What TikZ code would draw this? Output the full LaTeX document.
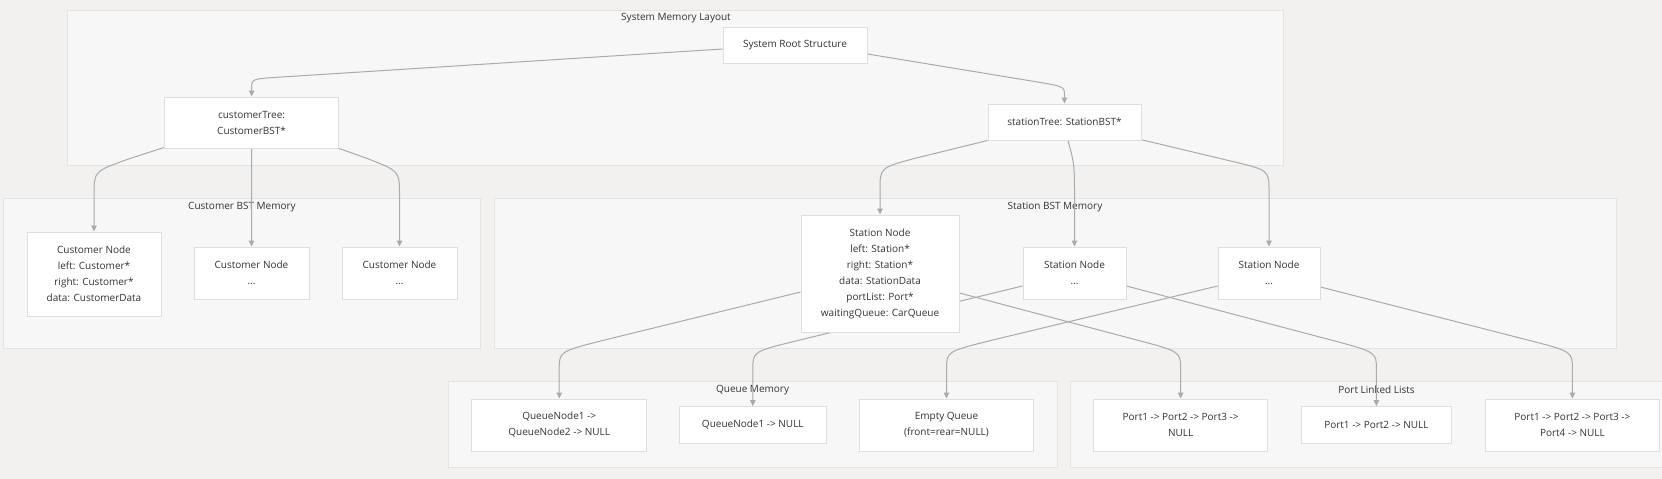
\documentclass[tikz,border=0pt]{standalone}
\usepackage{fontspec}
\setmainfont{Open Sans}
\usetikzlibrary{calc,arrows.meta}
\pgfdeclarelayer{bg}
\pgfdeclarelayer{edges}
\pgfsetlayers{bg,edges,main}
\definecolor{pagebg}{RGB}{242,241,240}
\definecolor{clfill}{RGB}{247,247,247}
\definecolor{cldraw}{RGB}{227,227,227}
\definecolor{nddraw}{RGB}{222,222,222}
\definecolor{edgec}{RGB}{170,170,170}
\definecolor{txt}{RGB}{51,51,51}
\tikzset{
  box/.style={draw=nddraw, fill=white, line width=1pt, inner sep=0pt, align=center, text=txt},
  cluster/.style={draw=cldraw, fill=clfill, line width=1pt},
  cltitle/.style={text=txt, inner sep=0pt},
  edge/.style={draw=edgec, line width=1pt, -{Triangle[length=6pt,width=5.5pt]}},
}
\begin{document}
\begin{tikzpicture}[x=1pt,y=-1pt, font=\fontsize{10}{16}\selectfont]
\useasboundingbox (0,0) rectangle (1662,479);
% nodes
\node[box, minimum width=144pt, minimum height=36pt] (root) at (795,45) {System Root Structure};
\node[box, minimum width=174pt, minimum height=51pt] (ctree) at (251.6,122.5) {customerTree:\\CustomerBST*};
\node[box, minimum width=153pt, minimum height=36pt] (stree) at (1064.5,122) {stationTree: StationBST*};
\node[box, minimum width=134pt, minimum height=84pt] (cn1) at (94,274) {Customer Node\\left: Customer*\\right: Customer*\\data: CustomerData};
\node[box, minimum width=115pt, minimum height=52pt] (cn2) at (251.5,273) {Customer Node\\...};
\node[box, minimum width=115pt, minimum height=52pt] (cn3) at (399.5,273) {Customer Node\\...};
\node[box, minimum width=158pt, minimum height=117pt] (sn1) at (880,273.5) {Station Node\\left: Station*\\right: Station*\\data: StationData\\portList: Port*\\waitingQueue: CarQueue};
\node[box, minimum width=103pt, minimum height=52pt] (sn2) at (1074.5,273) {Station Node\\...};
\node[box, minimum width=102pt, minimum height=52pt] (sn3) at (1269,273) {Station Node\\...};
\node[box, minimum width=174.5pt, minimum height=52pt] (q1) at (559.2,425) {QueueNode1 ->\\QueueNode2 -> NULL};
\node[box, minimum width=146.4pt, minimum height=36.6pt] (q2) at (752.8,425) {QueueNode1 -> NULL};
\node[box, minimum width=174pt, minimum height=52pt] (q3) at (946.5,425) {Empty Queue\\(front=rear=NULL)};
\node[box, minimum width=174pt, minimum height=52pt] (p1) at (1180.6,425) {Port1 -> Port2 -> Port3 ->\\NULL};
\node[box, minimum width=150.7pt, minimum height=36.6pt] (p2) at (1376.4,425) {Port1 -> Port2 -> NULL};
\node[box, minimum width=174pt, minimum height=52pt] (p3) at (1572.4,425) {Port1 -> Port2 -> Port3 ->\\Port4 -> NULL};
% clusters
\begin{pgfonlayer}{bg}
\fill[pagebg] (0,0) rectangle (1662,479);
\draw[cluster] (67,10) rectangle (1283,165);
\draw[cluster] (3,198) rectangle (480,348);
\draw[cluster] (494,198) rectangle (1616,348);
\draw[cluster] (448.6,381.7) rectangle (1057,467);
\draw[cluster] (1070.5,381.7) rectangle (1670,467);
\node[cltitle] (t1) at (676,18) {System Memory Layout};
\node[cltitle] (t2) at (242,207) {Customer BST Memory};
\node[cltitle] (t3) at (1055,207) {Station BST Memory};
\node[cltitle] (t4) at (752.6,390) {Queue Memory};
\node[cltitle] (t5) at (1376.5,390) {Port Linked Lists};
\end{pgfonlayer}
% edges
\begin{pgfonlayer}{edges}
\draw[edge] ($(root.west)+(0,4)$) -- ($(ctree.north)+(28.4,-19.4)$) .. controls ($(ctree.north)+(0,-17.6)$) .. ($(ctree.north)+(0,-8)$) -- (ctree.north);
\draw[edge] ($(root.east)+(0,9)$) -- ($(stree.north)+(-30,-22)$) .. controls ($(stree.north)+(0,-17)$) .. ($(stree.north)+(0,-8)$) -- (stree.north);
\draw[edge] ($(ctree.south west)+(0,-1)$) -- ($(cn1.north)+(36,-73)$) .. controls ($(cn1.north)+(0,-60.3)$) .. ($(cn1.north)+(0,-37)$) -- (cn1.north);
\draw[edge] (ctree.south) -- (cn2.north);
\draw[edge] ($(ctree.south east)+(0,0)$) -- ($(cn3.north)+(-33,-88.3)$) .. controls ($(cn3.north)+(0,-75.5)$) .. ($(cn3.north)+(0,-52)$) -- (cn3.north);
\draw[edge] (stree.south west) -- ($(sn1.north)+(38,-56.9)$) .. controls ($(sn1.north)+(0,-47)$) .. ($(sn1.north)+(0,-25)$) -- (sn1.north);
\draw[edge] ($(stree.south)+(3.5,0)$) .. controls ($(sn2.north)+(0,-82)$) .. ($(sn2.north)+(0,-47)$) -- (sn2.north);
\draw[edge] ($(stree.south east)+(-1,-1)$) -- ($(sn3.north)+(-38,-85.4)$) .. controls ($(sn3.north)+(0,-76.4)$) .. ($(sn3.north)+(0,-55)$) -- (sn3.north);
% station nodes to queues and port lists
\draw[edge] ($(sn1.west)+(0,18.5)$) -- ($(q1.north)+(45,-58.4)$) .. controls ($(q1.north)+(0,-47)$) .. ($(q1.north)+(0,-29)$) -- (q1.north);
\draw[edge] ($(sn2.west)+(0,13)$) -- ($(q2.north)+(45,-65.7)$) .. controls ($(q2.north)+(0,-54.7)$) .. ($(q2.north)+(0,-36.7)$) -- (q2.north);
\draw[edge] ($(sn3.west)+(0,13)$) -- ($(q3.north)+(45,-58.2)$) .. controls ($(q3.north)+(0,-47)$) .. ($(q3.north)+(0,-29)$) -- (q3.north);
\draw[edge] ($(sn1.east)+(0,19.5)$) -- ($(p1.north)+(-45,-58.8)$) .. controls ($(p1.north)+(0,-47)$) .. ($(p1.north)+(0,-29)$) -- (p1.north);
\draw[edge] ($(sn2.east)+(0,13)$) -- ($(p2.north)+(-45,-66.1)$) .. controls ($(p2.north)+(0,-54.1)$) .. ($(p2.north)+(0,-36.7)$) -- (p2.north);
\draw[edge] ($(sn3.east)+(0,14)$) -- ($(p3.north)+(-45,-58.6)$) .. controls ($(p3.north)+(0,-47)$) .. ($(p3.north)+(0,-29)$) -- (p3.north);
\end{pgfonlayer}
\end{tikzpicture}
\end{document}
